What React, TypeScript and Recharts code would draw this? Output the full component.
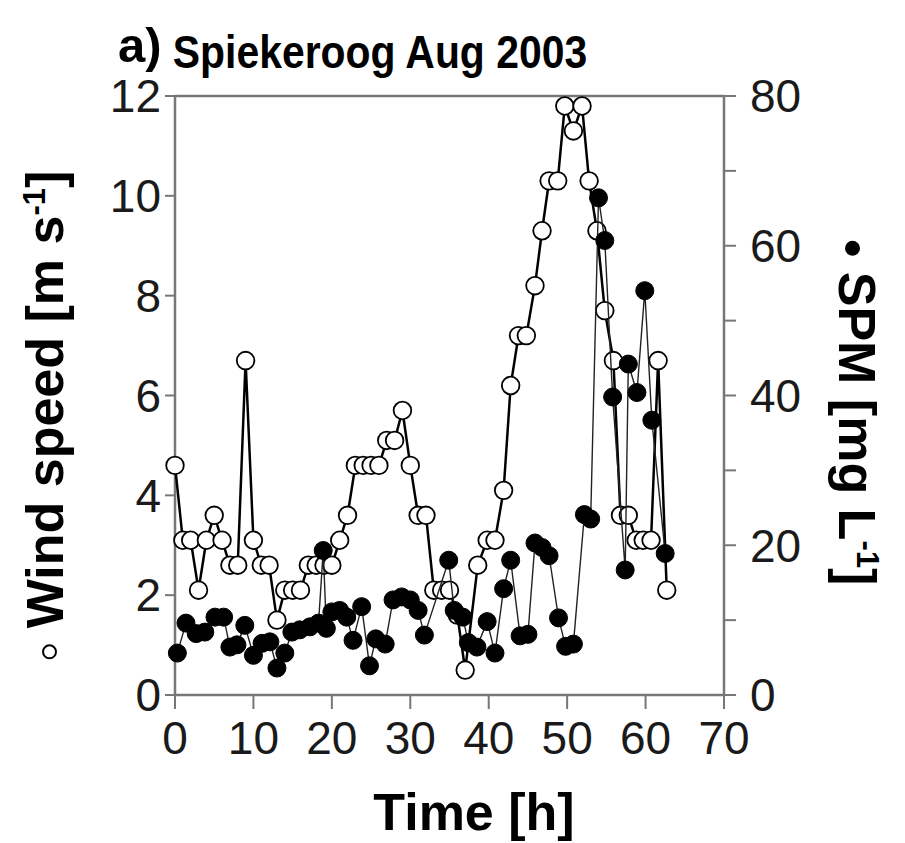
import React from 'react';
import { ComposedChart, Scatter, XAxis, YAxis } from 'recharts';

// Wind speed (open circles, left axis) - time in hours
const windTime = [
  0, 1, 2, 3, 4, 5, 6, 7, 8, 9, 10, 11, 12, 13, 14, 15, 16, 17, 18, 19, 20, 21, 22, 23, 24, 25, 26, 27, 28, 29,
  30, 31, 32, 33, 34, 35, 36, 37, 38.6, 39.8, 40.8, 41.9, 42.8, 43.8, 44.8, 45.9, 46.8, 47.7, 48.8, 49.7, 50.8,
  51.9, 52.8, 53.8, 54.8, 55.9, 56.8, 57.8, 58.8, 59.7, 60.7, 61.6, 62.7,
];
const windSpeed = [
  4.6, 3.1, 3.1, 2.1, 3.1, 3.6, 3.1, 2.6, 2.6, 6.7, 3.1, 2.6, 2.6, 1.5, 2.1, 2.1, 2.1, 2.6, 2.6, 2.6, 2.6, 3.1,
  3.6, 4.6, 4.6, 4.6, 4.6, 5.1, 5.1, 5.7, 4.6, 3.6, 3.6, 2.1, 2.1, 2.1, 1.6, 0.5, 2.6, 3.1, 3.1, 4.1, 6.2, 7.2,
  7.2, 8.2, 9.3, 10.3, 10.3, 11.8, 11.3, 11.8, 10.3, 9.3, 7.7, 6.7, 3.6, 3.6, 3.1, 3.1, 3.1, 6.7, 2.1,
];

// SPM (filled circles, right axis)
const spmTime = [
  0.3, 1.4, 2.7, 3.8, 5.1, 6.2, 7.0, 7.9, 8.9, 10.0, 11.1, 12.1, 13.0, 14.0, 14.9, 15.9, 17.2, 18.3, 18.9, 19.3,
  20.0, 21.0, 21.9, 22.7, 23.8, 24.8, 25.6, 26.8, 27.8, 28.9, 30.0, 31.0, 31.8, 34.9, 35.6, 36.7, 37.4, 38.5,
  39.8, 40.8, 41.9, 42.8, 44.0, 45.0, 45.9, 46.8, 47.7, 48.9, 49.8, 50.8, 52.2, 53.0, 54.0, 54.8, 55.8, 57.4,
  57.8, 58.9, 59.9, 60.8, 62.5,
];
const spmValue = [
  5.6, 9.6, 8.2, 8.4, 10.4, 10.4, 6.4, 6.7, 9.3, 5.3, 6.9, 7.1, 3.6, 5.6, 8.4, 8.7, 9.1, 9.6, 19.3, 8.9, 11.1,
  11.3, 10.4, 7.3, 11.8, 3.9, 7.5, 6.8, 12.7, 13.1, 12.7, 11.3, 8.0, 18, 11.3, 10.4, 7.0, 6.4, 9.8, 5.6, 14.2,
  18, 7.9, 8.1, 20.3, 19.7, 18.6, 10.3, 6.5, 6.8, 24.1, 23.5, 66.4, 60.7, 39.8, 16.7, 44.2, 40.4, 54, 36.7, 18.9,
];

const xTicks = [0, 10, 20, 30, 40, 50, 60, 70];
const windTicks = [0, 2, 4, 6, 8, 10, 12];
const spmTicks = [0, 10, 20, 30, 40, 50, 60, 70, 80];

const windData = windTime.map((t, i) => ({ t, v: windSpeed[i] }));
const spmData = spmTime.map((t, i) => ({ t, v: spmValue[i] }));

const FONT = '"Liberation Sans", Arial, sans-serif';
const AXIS = '#777';
const tickStyle = { fontSize: 46, fill: '#1a1a1a', fontFamily: FONT };

const OpenDot = (props: any) => (
  <circle cx={props.cx} cy={props.cy} r={8.8} fill="#fff" stroke="#000" strokeWidth={1.8} />
);
const FilledDot = (props: any) => (
  <circle cx={props.cx} cy={props.cy} r={9} fill="#000" stroke="#000" strokeWidth={1} />
);

export default function App() {
  return (
    <div style={{ position: 'absolute', left: 0, top: 0, width: 905, height: 843, background: '#fff', fontFamily: FONT }}>
      <ComposedChart
        width={905}
        height={843}
        margin={{ top: 95, right: 101, bottom: 68, left: 95 }}
      >
        <XAxis
          xAxisId="top"
          orientation="top"
          type="number"
          dataKey="t"
          domain={[0, 70]}
          height={1}
          tick={false}
          tickLine={false}
          axisLine={{ stroke: AXIS, strokeWidth: 2.5 }}
        />
        <XAxis
          type="number"
          dataKey="t"
          domain={[0, 70]}
          ticks={xTicks}
          height={80}
          tickSize={14}
          tickMargin={12}
          tick={tickStyle}
          axisLine={{ stroke: AXIS, strokeWidth: 2.5 }}
          tickLine={{ stroke: AXIS, strokeWidth: 2 }}
        />
        <YAxis
          yAxisId="left"
          type="number"
          dataKey="v"
          domain={[0, 12]}
          ticks={windTicks}
          width={80}
          tickSize={10}
          tickMargin={4}
          tick={tickStyle}
          axisLine={{ stroke: AXIS, strokeWidth: 2.5 }}
          tickLine={{ stroke: AXIS, strokeWidth: 2 }}
        />
        <YAxis
          yAxisId="right"
          orientation="right"
          type="number"
          dataKey="v"
          domain={[0, 80]}
          ticks={spmTicks}
          width={80}
          tickSize={12}
          tickMargin={14}
          tick={tickStyle}
          tickFormatter={(v: number) => (v % 20 === 0 ? String(v) : '')}
          axisLine={{ stroke: AXIS, strokeWidth: 2.5 }}
          tickLine={{ stroke: AXIS, strokeWidth: 2 }}
        />
        <Scatter
          yAxisId="left"
          data={windData}
          line={{ stroke: '#000', strokeWidth: 2.5 }}
          shape={OpenDot}
          isAnimationActive={false}
        />
        <Scatter
          yAxisId="right"
          data={spmData}
          line={{ stroke: '#222', strokeWidth: 1.4 }}
          shape={FilledDot}
          isAnimationActive={false}
        />
      </ComposedChart>

      <div style={{ position: 'absolute', left: 118, top: 21, fontSize: 49, fontWeight: 'bold', lineHeight: 1 }}>a)</div>
      <div
        style={{
          position: 'absolute', left: 380, top: 28, transform: 'translateX(-50%) scaleX(0.87)',
          fontSize: 47, fontWeight: 'bold', lineHeight: 1, whiteSpace: 'nowrap',
        }}
      >
        Spiekeroog Aug 2003
      </div>
      <div
        style={{
          position: 'absolute', left: 474, top: 786, transform: 'translateX(-50%)',
          fontSize: 52, fontWeight: 'bold', lineHeight: 1, whiteSpace: 'nowrap',
        }}
      >
        Time [h]
      </div>

      <div
        style={{
          position: 'absolute', left: 45, top: 415, transform: 'translate(-50%, -50%) rotate(-90deg)',
          fontSize: 52, fontWeight: 'bold', lineHeight: 1, whiteSpace: 'nowrap',
        }}
      >
        <span style={{ display: 'inline-block', width: 11, height: 11, border: '2.5px solid #000', borderRadius: '50%', marginRight: 16, verticalAlign: 'middle' }} />
        Wind speed [m s<sup style={{ fontSize: 31, verticalAlign: 'super', lineHeight: 0 }}>-1</sup>]
      </div>
      <div
        style={{
          position: 'absolute', left: 857, top: 413, transform: 'translate(-50%, -50%) rotate(90deg)',
          fontSize: 52, fontWeight: 'bold', lineHeight: 1, whiteSpace: 'nowrap',
        }}
      >
        <span style={{ display: 'inline-block', width: 15, height: 15, background: '#000', borderRadius: '50%', marginRight: 16, verticalAlign: 'middle' }} />
        SPM [mg L<sup style={{ fontSize: 31, verticalAlign: 'super', lineHeight: 0 }}>-1</sup>]
      </div>
    </div>
  );
}
